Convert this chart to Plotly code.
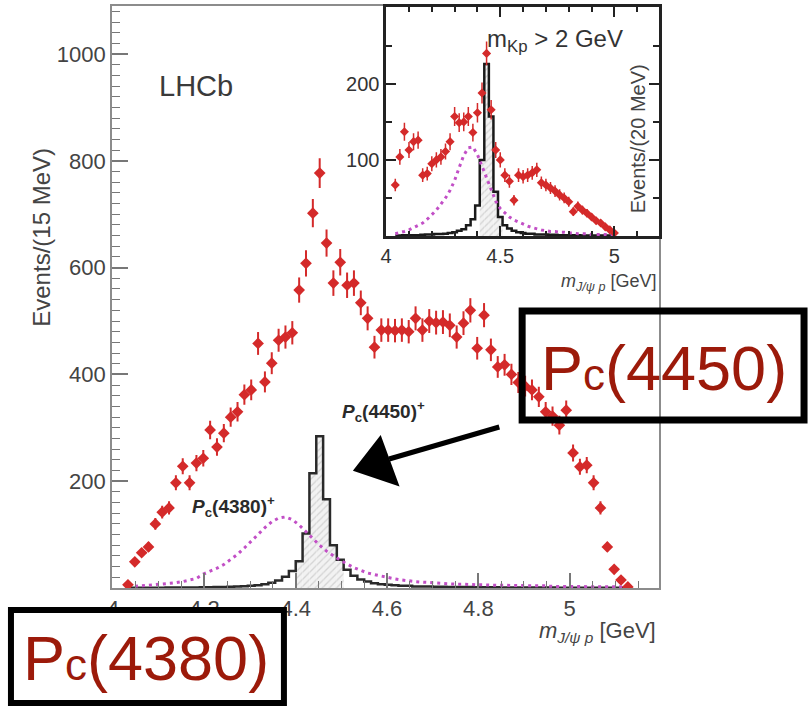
import plotly.graph_objects as go

W, H = 809, 706

# ---------------- main panel data (15 MeV bins) ----------------
main_first_center = 4.0325
main_bin_width = 0.015
main_counts = [6, 49, 66, 77, 120, 142, 150, 197, 228, 197,
               234, 243, 296, 264, 290, 320, 330, 362, 371, 458,
               386, 421, 464, 470, 478, 558, 608, 702, 777, 646,
               571, 610, 567, 571, 534, 505, 451, 483, 483, 482,
               483, 480, 505, 483, 500, 497, 498, 492, 470, 496,
               520, 449, 511, 446, 414, 418, 400, 385, 378, 371,
               358, 330, 322, 305, 333, 253, 227, 230, 197, 150,
               77, 35, 15, 2]
main_pc4450 = [0.5, 0.5, 0.5, 0.5, 0.5, 0.5, 1, 1, 1, 1,
               1, 1.5, 1.5, 2, 2, 2.5, 3, 3.5, 4, 5,
               7, 10, 14, 21, 32, 50, 102, 215, 284, 166,
               80, 53, 34, 23, 16, 12, 9, 7, 6, 5,
               4, 4, 3, 3, 3, 2.5, 2.5, 2, 2, 2,
               2, 1.5, 1.5, 1.5, 1.5, 1, 1, 1, 1, 1,
               1, 1, 1, 0.5, 0.5, 0.5, 0.5, 0.5, 0.5, 0.5,
               0.5, 0.5, 0.5, 0.5]
main_pc4380 = [3, 3, 4, 5, 6, 7, 8, 10, 12, 15,
               18, 26, 31, 37, 44, 53, 63, 75, 88, 100,
               113, 124, 131, 133, 128, 118, 105, 93, 80, 69,
               60, 52, 45, 38, 33, 28, 25, 22, 20, 17,
               15, 13, 12, 11, 10, 9, 8, 8, 7, 7,
               6, 6, 6, 5, 5, 5, 5, 4, 4, 4,
               4, 4, 3, 3, 3, 3, 3, 3, 3, 2,
               2, 2, 2, 2]
main_centers = [round(main_first_center + main_bin_width * i, 4) for i in range(len(main_counts))]
main_hatch_from, main_hatch_to = 25, 32

main_xticks = [4, 4.2, 4.4, 4.6, 4.8, 5]
main_xticktext = ["4", "4.2", "4.4", "4.6", "4.8", "5"]
main_yticks = [200, 400, 600, 800, 1000]

# ---------------- inset data (20 MeV bins) ----------------
ins_first_center = 4.04
ins_bin_width = 0.02
ins_counts = [67, 104, 137, 113, 124, 126, 80, 82, 95, 100,
              104, 111, 124, 157, 149, 150, 157, 136, 162, 188,
              240, 166, 113, 100, 80, 72, 47, 80, 78, 80,
              83, 87, 70, 67, 63, 59, 54, 50, 45, 32,
              39, 34, 30, 25, 20, 17, 12, 8, 4]
ins_pc4450 = [0.5, 0.5, 1, 1, 1, 1, 1.5, 2, 2, 2.5,
              2.5, 3, 4, 5, 7, 9, 14, 22, 40, 100,
              226, 157, 58, 25, 14, 10, 7, 5, 4, 3,
              3, 2, 2, 2, 1.5, 1.5, 1, 1, 1, 1,
              1, 0.5, 0.5, 0.5, 0.5, 0.5, 0.5, 0.5, 0.5]
ins_pc4380 = [3, 4, 6, 8, 11, 14, 17, 22, 28, 34,
              42, 50, 60, 73, 90, 106, 116, 117, 107, 92,
              76, 60, 46, 36, 30, 25, 21, 18, 15, 13,
              11, 9, 8, 7, 6, 6, 5, 5, 4, 4,
              3, 3, 3, 2, 2, 2, 2, 1, 1]
ins_centers = [round(ins_first_center + ins_bin_width * j, 4) for j in range(len(ins_counts))]
ins_hatch_from, ins_hatch_to = 19, 24

ins_xticks = [4, 4.5, 5]
ins_xticktext = ["4", "4.5", "5"]
ins_yticks = [100, 200]

RED = "#d42a2a"
MAG = "#c24fc6"
DARKRED = "#9c1a0a"
FONT = "Liberation Sans, Arial, Helvetica, sans-serif"


def px(x):
    return x / W


def py(y):
    return 1 - y / H


fig = go.Figure()

# ---- main panel ----
fig.add_trace(go.Bar(
    x=main_centers[main_hatch_from:main_hatch_to], y=main_pc4450[main_hatch_from:main_hatch_to],
    width=main_bin_width, xaxis="x", yaxis="y",
    marker=dict(color="#f2f2f2", line=dict(width=0),
                pattern=dict(shape="/", fgcolor="#b4b4b4", bgcolor="#f2f2f2", size=5, solidity=0.25))))
fig.add_trace(go.Scatter(
    x=main_centers, y=main_pc4450, mode="lines", line=dict(shape="hvh", color="#2a2a2a", width=2.5),
    xaxis="x", yaxis="y"))
fig.add_trace(go.Scatter(
    x=main_centers, y=main_pc4380, mode="lines", line=dict(color=MAG, width=3, dash="3px,4px"),
    xaxis="x", yaxis="y"))
fig.add_trace(go.Scatter(
    x=main_centers, y=main_counts, mode="markers",
    marker=dict(symbol="diamond", size=9, color=RED, line=dict(width=0)),
    error_y=dict(type="sqrt", color=RED, thickness=2, width=0),
    xaxis="x", yaxis="y"))

# ---- inset panel ----
fig.add_trace(go.Bar(
    x=ins_centers[ins_hatch_from:ins_hatch_to], y=ins_pc4450[ins_hatch_from:ins_hatch_to],
    width=ins_bin_width, xaxis="x2", yaxis="y2",
    marker=dict(color="#f2f2f2", line=dict(width=0),
                pattern=dict(shape="/", fgcolor="#b4b4b4", bgcolor="#f2f2f2", size=5, solidity=0.25))))
fig.add_trace(go.Scatter(
    x=ins_centers, y=ins_pc4450, mode="lines", line=dict(shape="hvh", color="#1a1a1a", width=2.5),
    xaxis="x2", yaxis="y2"))
fig.add_trace(go.Scatter(
    x=ins_centers, y=ins_pc4380, mode="lines", line=dict(color=MAG, width=3, dash="3px,4px"),
    xaxis="x2", yaxis="y2"))
fig.add_trace(go.Scatter(
    x=ins_centers, y=ins_counts, mode="markers",
    marker=dict(symbol="diamond", size=7, color=RED, line=dict(width=0)),
    error_y=dict(type="sqrt", color=RED, thickness=1.5, width=0),
    xaxis="x2", yaxis="y2"))

tickfont_main = dict(family=FONT, size=22, color="#444")
tickfont_ins = dict(family=FONT, size=20, color="#333")

fig.update_layout(
    width=W, height=H, margin=dict(l=0, r=0, t=0, b=0),
    paper_bgcolor="white", plot_bgcolor="rgba(0,0,0,0)",
    showlegend=False, barmode="overlay",
    xaxis=dict(domain=[px(107), px(658)], range=[3.998, 5.196], anchor="y",
               showline=True, linecolor="#8c8c8c", linewidth=2, mirror=True,
               ticks="inside", ticklen=15, tickwidth=1.5, tickcolor="#777",
               tickvals=main_xticks, ticktext=main_xticktext, tickfont=tickfont_main,
               minor=dict(dtick=0.05, tick0=4, ticklen=7, ticks="inside", tickcolor="#777", tickwidth=1.2),
               showgrid=False, zeroline=False),
    yaxis=dict(domain=[py(588), py(6)], range=[0, 1090], anchor="x",
               showline=True, linecolor="#8c8c8c", linewidth=2, mirror=True,
               ticks="inside", ticklen=16, tickwidth=1.5, tickcolor="#777",
               tickvals=main_yticks, tickfont=tickfont_main,
               minor=dict(dtick=20, tick0=0, ticklen=8, ticks="inside", tickcolor="#777", tickwidth=1.2),
               showgrid=False, zeroline=False),
    xaxis2=dict(domain=[px(383), px(658)], range=[4.0, 5.196], anchor="y2",
                showline=True, linecolor="#222", linewidth=2.5, mirror="allticks",
                ticks="inside", ticklen=10, tickwidth=1.5, tickcolor="#222",
                tickvals=ins_xticks, ticktext=ins_xticktext, tickfont=tickfont_ins,
                minor=dict(dtick=0.1, tick0=4, ticklen=5, ticks="inside", tickcolor="#222"),
                showgrid=False, zeroline=False),
    yaxis2=dict(domain=[py(236), py(7)], range=[0, 301], anchor="x2",
                showline=True, linecolor="#222", linewidth=2.5, mirror="allticks",
                ticks="inside", ticklen=10, tickwidth=1.5, tickcolor="#222",
                tickvals=ins_yticks, tickfont=tickfont_ins,
                minor=dict(dtick=50, tick0=0, ticklen=6, ticks="inside", tickcolor="#222"),
                showgrid=False, zeroline=False),
)


def ann(text, x, y, size, color="#333", xanchor="center", yanchor="middle", angle=0):
    fig.add_annotation(text=text, x=px(x), y=py(y), xref="paper", yref="paper",
                       xanchor=xanchor, yanchor=yanchor, showarrow=False, textangle=angle,
                       font=dict(family=FONT, size=size, color=color))


ann("LHCb", 152, 86, 29, "#3a3a3a", xanchor="left")
ann("Events/(15 MeV)", 35, 237, 24, "#444", angle=-90)
ann("<i>m</i><sub><i>J/ψ p</i></sub> [GeV]", 657, 632, 22, "#444", xanchor="right")
ann("<i>m</i><sub><i>J/ψ p</i></sub> [GeV]", 658, 282, 18, "#444", xanchor="right")
ann("Events/(20 MeV)", 637, 139, 20, "#444", angle=-90)
ann("m<sub>Kp</sub> &gt; 2 GeV", 553, 40, 24, "#333")
ann("<b><i>P</i><sub>c</sub>(4450)<sup>+</sup></b>", 380, 411, 19, "#2a2a2a")
ann("<b><i>P</i><sub>c</sub>(4380)<sup>+</sup></b>", 229, 506, 19, "#2a2a2a")

# big labels with boxes
fig.add_shape(type="rect", xref="paper", yref="paper", layer="above",
              x0=px(520), x1=px(804), y0=py(311), y1=py(420),
              line=dict(color="black", width=7), fillcolor="rgba(0,0,0,0)")
fig.add_shape(type="rect", xref="paper", yref="paper", layer="above",
              x0=px(5), x1=px(280), y0=py(610), y1=py(703),
              line=dict(color="black", width=6), fillcolor="white")
ann("P<span style='font-size:44px'>c</span>(4450)", 663, 368, 63, DARKRED)
ann("P<span style='font-size:44px'>c</span>(4380)", 141, 658, 63, DARKRED)

# hand-drawn style arrow
tri = [(352, 470), (377, 438), (394, 484)]
path = "M " + " L ".join(f"{px(a):.5f},{py(b):.5f}" for a, b in tri) + " Z"
fig.add_shape(type="path", xref="paper", yref="paper", path=path, layer="above",
              fillcolor="black", line=dict(color="black", width=3))
fig.add_shape(type="line", xref="paper", yref="paper", layer="above",
              x0=px(386), y0=py(459), x1=px(497), y1=py(427),
              line=dict(color="black", width=5))

fig.write_html("out.html")
